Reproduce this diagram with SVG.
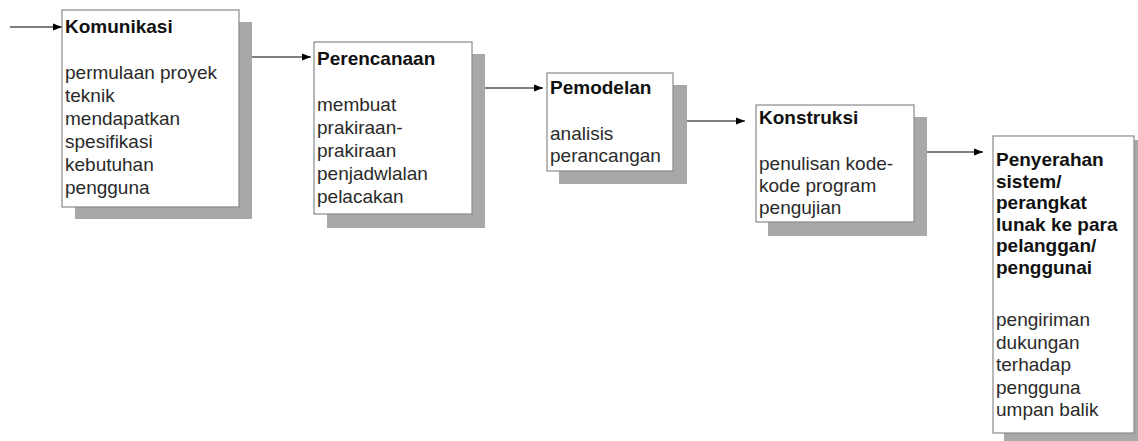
<svg xmlns="http://www.w3.org/2000/svg" width="1138" height="441" viewBox="0 0 1138 441">
  <style>
    .box { fill: #ffffff; stroke: #8a8a8a; stroke-width: 1.2; }
    .shadow { fill: #a8a8a8; }
    .title { font-family: "Liberation Sans", Arial, sans-serif; font-size: 19px; font-weight: bold; fill: #111111; }
    .body { font-family: "Liberation Sans", Arial, sans-serif; font-size: 19px; fill: #2a2a2a; }
    .link { stroke: #000000; stroke-width: 1.2; fill: none; marker-end: url(#arrow); }
  </style>
  <defs>
    <marker id="arrow" viewBox="0 0 10 10" refX="10" refY="5" markerWidth="9" markerHeight="9" markerUnits="userSpaceOnUse" orient="auto">
      <path d="M0,1 L10,5 L0,9 z" fill="#000000"/>
    </marker>
  </defs>
  <rect width="1138" height="441" fill="#ffffff"/>

  <!-- connectors -->
  <g id="connectors">
    <line class="link" x1="10" y1="27" x2="62" y2="27"/>
    <line class="link" x1="239" y1="57" x2="311" y2="57"/>
    <line class="link" x1="472" y1="88" x2="543" y2="88"/>
    <line class="link" x1="673" y1="121" x2="745" y2="121"/>
    <line class="link" x1="914" y1="152" x2="983" y2="152"/>
  </g>

  <!-- stage 1 -->
  <g id="komunikasi">
    <rect class="shadow" x="75" y="22" width="177" height="197"/>
    <rect class="box" x="62" y="10" width="177" height="197"/>
    <text class="title" x="65" y="33">Komunikasi</text>
    <text class="body" x="65" y="79">permulaan proyek</text>
    <text class="body" x="65" y="102">teknik</text>
    <text class="body" x="65" y="125">mendapatkan</text>
    <text class="body" x="65" y="148">spesifikasi</text>
    <text class="body" x="65" y="171">kebutuhan</text>
    <text class="body" x="65" y="194">pengguna</text>
  </g>

  <!-- stage 2 -->
  <g id="perencanaan">
    <rect class="shadow" x="327" y="54" width="158" height="174"/>
    <rect class="box" x="314" y="42" width="158" height="172"/>
    <text class="title" x="317" y="65">Perencanaan</text>
    <text class="body" x="317" y="111">membuat</text>
    <text class="body" x="317" y="134">prakiraan-</text>
    <text class="body" x="317" y="157">prakiraan</text>
    <text class="body" x="317" y="180">penjadwlalan</text>
    <text class="body" x="317" y="203">pelacakan</text>
  </g>

  <!-- stage 3 -->
  <g id="pemodelan">
    <rect class="shadow" x="559" y="85" width="128" height="99"/>
    <rect class="box" x="547" y="73" width="126" height="98"/>
    <text class="title" x="550" y="94">Pemodelan</text>
    <text class="body" x="550" y="140">analisis</text>
    <text class="body" x="550" y="162">perancangan</text>
  </g>

  <!-- stage 4 -->
  <g id="konstruksi">
    <rect class="shadow" x="768" y="117" width="159" height="119"/>
    <rect class="box" x="756" y="105" width="158" height="117"/>
    <text class="title" x="759" y="124">Konstruksi</text>
    <text class="body" x="759" y="170">penulisan kode-</text>
    <text class="body" x="759" y="192">kode program</text>
    <text class="body" x="759" y="214">pengujian</text>
  </g>

  <!-- stage 5 -->
  <g id="penyerahan">
    <rect class="shadow" x="1004" y="140" width="140" height="301"/>
    <rect class="box" x="993" y="136" width="141" height="297"/>
    <text class="title" x="996" y="166">Penyerahan</text>
    <text class="title" x="996" y="187.5">sistem/</text>
    <text class="title" x="996" y="209">perangkat</text>
    <text class="title" x="996" y="230.5">lunak ke para</text>
    <text class="title" x="996" y="252">pelanggan/</text>
    <text class="title" x="996" y="273.5">penggunai</text>
    <text class="body" x="996" y="326">pengiriman</text>
    <text class="body" x="996" y="348.5">dukungan</text>
    <text class="body" x="996" y="371">terhadap</text>
    <text class="body" x="996" y="393.5">pengguna</text>
    <text class="body" x="996" y="416">umpan balik</text>
  </g>
</svg>
